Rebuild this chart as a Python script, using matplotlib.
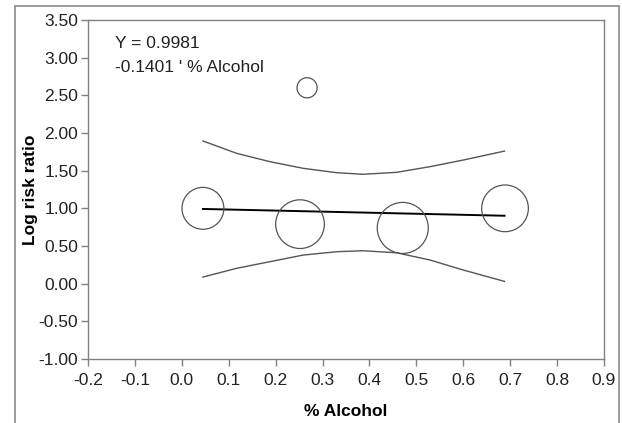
import matplotlib.pyplot as plt
from matplotlib.patches import Rectangle

plt.rcParams["font.family"] = ["Liberation Sans", "DejaVu Sans"]

# study points: % alcohol, log risk ratio, marker size (weight)
alcohol = [0.045, 0.252, 0.471, 0.689, 0.267]
log_rr = [1.00, 0.79, 0.74, 1.00, 2.60]
weights = [910, 1230, 1350, 1130, 210]

# fitted meta-regression line
intercept = 0.9981
slope = -0.1401
x_fit = [0.045, 0.688]

# confidence band
band_x = [0.045, 0.117, 0.188, 0.259, 0.330, 0.386, 0.458, 0.529, 0.600, 0.688]
band_upper = [1.894, 1.730, 1.619, 1.531, 1.473, 1.452, 1.478, 1.553, 1.641, 1.760]
band_lower = [0.088, 0.204, 0.292, 0.380, 0.424, 0.437, 0.410, 0.314, 0.181, 0.030]

xticks = [-0.2, -0.1, 0.0, 0.1, 0.2, 0.3, 0.4, 0.5, 0.6, 0.7, 0.8, 0.9]
yticks = [-1.0, -0.5, 0.0, 0.5, 1.0, 1.5, 2.0, 2.5, 3.0, 3.5]

fig = plt.figure(figsize=(6.22, 4.23), dpi=100)
ax = fig.add_axes([88 / 622, 64 / 423, 516 / 622, 339 / 423])

# outer frame around the whole chart
fig.patches.append(Rectangle((15 / 622, -0.05), 604 / 622, 1.05 - 6 / 423,
                             transform=fig.transFigure, fill=False,
                             edgecolor="#8a8a8a", linewidth=1.2))

ax.scatter(alcohol, log_rr, s=weights, facecolors="none",
           edgecolors="#555555", linewidths=0.9, zorder=3)
ax.plot(x_fit, [intercept + slope * v for v in x_fit], color="black", lw=1.4)
ax.plot(band_x, band_upper, color="#555555", lw=1.0)
ax.plot(band_x, band_lower, color="#555555", lw=1.0)

ax.set_xlim(-0.2, 0.9)
ax.set_ylim(-1.0, 3.5)
ax.set_xticks(xticks)
ax.set_xticklabels([f"{v:.1f}" for v in xticks])
ax.set_yticks(yticks)
ax.set_yticklabels([f"{v:.2f}" for v in yticks])

for s in ax.spines.values():
    s.set_color("#808080")
    s.set_linewidth(1.0)
ax.tick_params(axis="both", colors="#808080", labelcolor="#222222",
               labelsize=12.5, length=5, width=1.0)
ax.tick_params(axis="x", pad=5)
ax.tick_params(axis="y", pad=2)

ax.set_xlabel("% Alcohol", fontsize=12.5, fontweight="bold", va="center")
ax.xaxis.set_label_coords(0.5, -0.156)
ax.set_ylabel("Log risk ratio", fontsize=12.5, fontweight="bold", va="center")
ax.yaxis.set_label_coords(-0.112, 0.5)

ax.text(0.053, 0.932, "Y = 0.9981", transform=ax.transAxes,
        fontsize=12.5, va="center", ha="left", color="#222222")
ax.text(0.053, 0.861, "-0.1401 ' % Alcohol", transform=ax.transAxes,
        fontsize=12.5, va="center", ha="left", color="#222222")

fig.savefig("out.png", dpi=100)
